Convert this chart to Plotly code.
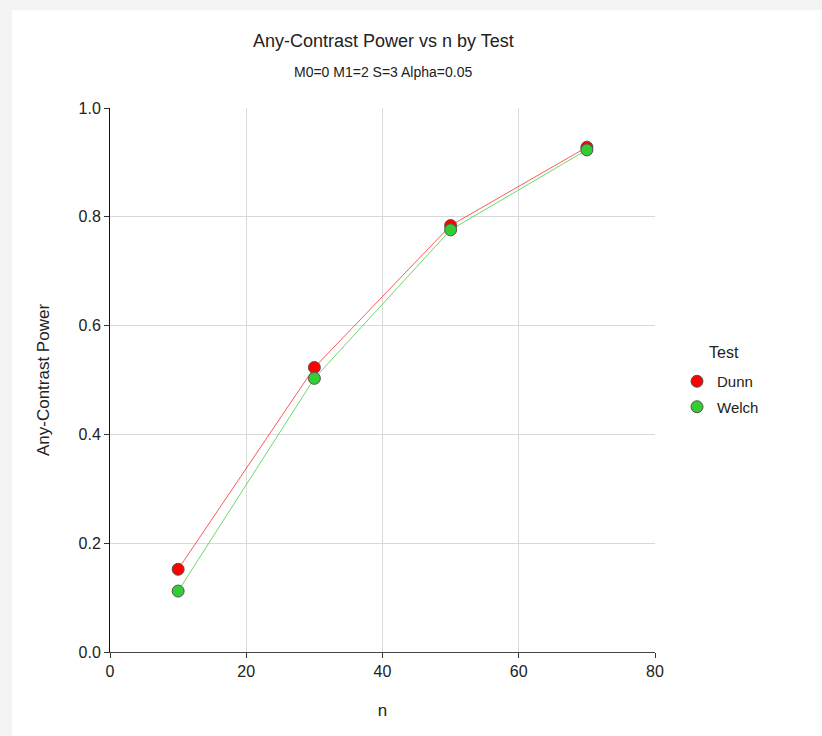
import plotly.graph_objects as go

n_values = [10, 30, 50, 70]
dunn_power = [0.152, 0.523, 0.784, 0.928]
welch_power = [0.112, 0.503, 0.776, 0.923]
series_names = ["Dunn", "Welch"]
x_ticks = [0, 20, 40, 60, 80]
y_ticks = [0.0, 0.2, 0.4, 0.6, 0.8, 1.0]
y_tick_labels = ["0.0", "0.2", "0.4", "0.6", "0.8", "1.0"]

FONT = "Liberation Sans, Arial, sans-serif"

line_colors = ["rgba(255,60,60,0.85)", "rgba(80,210,80,0.85)"]
marker_colors = ["#ff0000", "#33cc33"]
series_values = [dunn_power, welch_power]

fig = go.Figure()
for name, vals, lc in zip(series_names, series_values, line_colors):
    fig.add_trace(go.Scatter(
        x=n_values, y=vals, mode="lines", showlegend=False, hoverinfo="skip",
        line=dict(color=lc, width=1),
    ))
for name, vals, mc in zip(series_names, series_values, marker_colors):
    fig.add_trace(go.Scatter(
        x=n_values, y=vals, name=name, mode="markers", legendgroup=name,
        marker=dict(color=mc, size=12, line=dict(color="#555555", width=1)),
    ))

W, H = 822, 736
L, R, T, B = 110, 167, 108, 84
pw, ph = W - L - R, H - T - B

def px(x):
    return (x - L) / pw

def py(y):
    return (H - B - y) / ph

fig.add_shape(type="rect", xref="paper", yref="paper",
              x0=px(12), x1=px(830), y0=py(745), y1=py(10),
              fillcolor="white", line=dict(width=0), layer="below")

fig.add_annotation(text="Any-Contrast Power vs n by Test", xref="paper", yref="paper",
                   x=px(383), y=py(41), xanchor="center", yanchor="middle", showarrow=False,
                   font=dict(size=18, family=FONT, color="#222222"))
fig.add_annotation(text="M0=0 M1=2 S=3 Alpha=0.05", xref="paper", yref="paper",
                   x=px(383), y=py(72), xanchor="center", yanchor="middle", showarrow=False,
                   font=dict(size=14, family=FONT, color="#222222"))
fig.add_annotation(text="Test", xref="paper", yref="paper",
                   x=px(707), y=py(352), xanchor="left", yanchor="middle", showarrow=False,
                   font=dict(size=16, family=FONT, color="#222222"))

fig.update_layout(
    width=W, height=H,
    margin=dict(l=L, r=R, t=T, b=B),
    paper_bgcolor="#f4f4f4",
    plot_bgcolor="white",
    font=dict(family=FONT, color="#222222"),
    xaxis=dict(
        range=[0, 80], tickvals=x_ticks, ticks="outside", ticklen=5,
        tickcolor="#333333", showgrid=True, gridcolor="#d9d9d9", gridwidth=1,
        showline=True, linecolor="#444444", linewidth=1, zeroline=False,
        tickfont=dict(size=16, family=FONT, color="#222222"),
        title=dict(text="n", font=dict(size=17, family=FONT, color="#222222"), standoff=24),
    ),
    yaxis=dict(
        range=[0, 1.0], tickvals=y_ticks, ticktext=y_tick_labels, ticks="outside", ticklen=5,
        tickcolor="#333333", showgrid=True, gridcolor="#d9d9d9", gridwidth=1,
        showline=True, linecolor="#111111", linewidth=1, zeroline=False,
        tickfont=dict(size=16, family=FONT, color="#222222"),
        title=dict(text="Any-Contrast Power", font=dict(size=17, family=FONT, color="#222222"), standoff=24),
    ),
    legend=dict(
        font=dict(size=15, family=FONT, color="#222222"),
        x=px(677), xanchor="left", y=py(365), yanchor="top",
        bgcolor="rgba(0,0,0,0)", tracegroupgap=3, traceorder="grouped",
    ),
    showlegend=True,
)

fig.write_html("out.html")
